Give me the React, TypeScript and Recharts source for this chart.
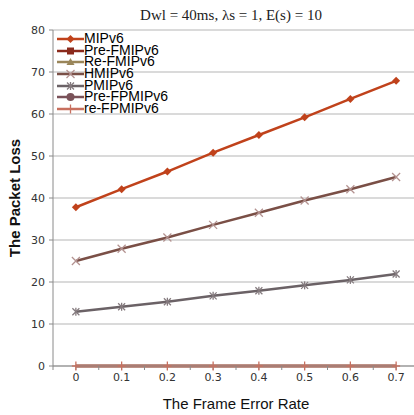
import { CartesianGrid, Label, Line, LineChart, XAxis, YAxis } from "recharts";

const frameErrorRate = [0, 0.1, 0.2, 0.3, 0.4, 0.5, 0.6, 0.7];
const mipv6 = [37.8, 42.1, 46.3, 50.8, 55.0, 59.2, 63.6, 67.9];
const preFmipv6 = [0, 0, 0, 0, 0, 0, 0, 0];
const reFmipv6 = [0, 0, 0, 0, 0, 0, 0, 0];
const hmipv6 = [25.0, 27.9, 30.6, 33.6, 36.5, 39.4, 42.1, 45.0];
const pmipv6 = [12.9, 14.1, 15.3, 16.7, 17.9, 19.2, 20.5, 21.9];
const preFpmipv6 = [0, 0, 0, 0, 0, 0, 0, 0];
const reFpmipv6 = [0, 0, 0, 0, 0, 0, 0, 0];

const xTicks = [-0.05, 0, 0.05, 0.1, 0.15, 0.2, 0.25, 0.3, 0.35, 0.4, 0.45, 0.5, 0.55, 0.6, 0.65, 0.7, 0.75];
const yTicks = [0, 10, 20, 30, 40, 50, 60, 70, 80];

const data = frameErrorRate.map((x, i) => ({
  x,
  mipv6: mipv6[i],
  preFmipv6: preFmipv6[i],
  reFmipv6: reFmipv6[i],
  hmipv6: hmipv6[i],
  pmipv6: pmipv6[i],
  preFpmipv6: preFpmipv6[i],
  reFpmipv6: reFpmipv6[i],
}));

type Shape = "diamond" | "square" | "triangle" | "x" | "star" | "circle" | "plus";

// markers of the zero series are hidden under re-FPMIPv6 in the original
const series: { key: string; name: string; line: string; mark: string; shape: Shape; dots: boolean }[] = [
  { key: "mipv6", name: "MIPv6", line: "#c0421b", mark: "#c0421b", shape: "diamond", dots: true },
  { key: "preFmipv6", name: "Pre-FMIPv6", line: "#8b2a1c", mark: "#8b2a1c", shape: "square", dots: false },
  { key: "reFmipv6", name: "Re-FMIPv6", line: "#9a865a", mark: "#9a865a", shape: "triangle", dots: false },
  { key: "hmipv6", name: "HMIPv6", line: "#7a4f46", mark: "#b39290", shape: "x", dots: true },
  { key: "pmipv6", name: "PMIPv6", line: "#6b6266", mark: "#847a7e", shape: "star", dots: true },
  { key: "preFpmipv6", name: "Pre-FPMIPv6", line: "#7a5259", mark: "#7a5259", shape: "circle", dots: false },
  { key: "reFpmipv6", name: "re-FPMIPv6", line: "#c8705f", mark: "#c8705f", shape: "plus", dots: true },
];

function marker(shape: Shape, cx: number, cy: number, color: string) {
  switch (shape) {
    case "diamond":
      return <polygon points={`${cx},${cy - 4} ${cx + 4},${cy} ${cx},${cy + 4} ${cx - 4},${cy}`} fill={color} />;
    case "square":
      return <rect x={cx - 3.5} y={cy - 3.5} width={7} height={7} fill={color} />;
    case "triangle":
      return <polygon points={`${cx},${cy - 4} ${cx + 4},${cy + 3} ${cx - 4},${cy + 3}`} fill={color} />;
    case "x":
      return (
        <g stroke={color} strokeWidth={1.3}>
          <line x1={cx - 4} y1={cy - 4} x2={cx + 4} y2={cy + 4} />
          <line x1={cx - 4} y1={cy + 4} x2={cx + 4} y2={cy - 4} />
        </g>
      );
    case "star":
      return (
        <g stroke={color} strokeWidth={1.3}>
          <line x1={cx - 3.5} y1={cy - 3.5} x2={cx + 3.5} y2={cy + 3.5} />
          <line x1={cx - 3.5} y1={cy + 3.5} x2={cx + 3.5} y2={cy - 3.5} />
          <line x1={cx} y1={cy - 4} x2={cx} y2={cy + 4} />
        </g>
      );
    case "circle":
      return <circle cx={cx} cy={cy} r={4} fill={color} />;
    case "plus":
      return (
        <g stroke={color} strokeWidth={1.3}>
          <line x1={cx - 4} y1={cy} x2={cx + 4} y2={cy} />
          <line x1={cx} y1={cy - 4.5} x2={cx} y2={cy + 4.5} />
        </g>
      );
  }
}

const makeDot = (shape: Shape, color: string) => (props: any) => {
  const { cx, cy, index } = props;
  return <g key={`${shape}-${index}`}>{marker(shape, cx, cy, color)}</g>;
};

const fmtX = (v: number) => {
  const hit = frameErrorRate.find((t) => Math.abs(t - v) < 1e-6);
  return hit === undefined ? "" : String(hit);
};

export default function App() {
  return (
    <div style={{ position: "absolute", left: 0, top: 0, width: 414, height: 415, overflow: "hidden", background: "#fff" }}>
      <div
        style={{
          position: "absolute",
          left: 0,
          top: 5,
          width: 462,
          textAlign: "center",
          fontFamily: "'Liberation Serif', serif",
          fontSize: 15,
          lineHeight: "20px",
          color: "#222",
          whiteSpace: "nowrap",
        }}
      >
        Dwl = 40ms, λs = 1, E(s) = 10
      </div>
      <LineChart width={422} height={415} data={data} margin={{ top: 30, right: 3, bottom: 0, left: 0 }}>
        <CartesianGrid horizontal vertical={false} stroke="#b5b5b5" strokeWidth={1.2} />
        <XAxis
          dataKey="x"
          type="number"
          domain={[-0.05, 0.75]}
          ticks={xTicks}
          tickFormatter={fmtX}
          interval={0}
          height={49}
          tickSize={4}
          tickMargin={3}
          stroke="#8a8a8a"
          tick={{ fontSize: 11, fill: "#333", fontFamily: "'DejaVu Sans', sans-serif" }}
          allowDataOverflow
        >
          <Label
            value="The Frame Error Rate"
            position="insideBottom"
            offset={6}
            style={{ fontSize: 15, fill: "#111", fontFamily: "'Liberation Sans', Arial, sans-serif" }}
          />
        </XAxis>
        <YAxis
          type="number"
          domain={[0, 80]}
          ticks={yTicks}
          width={53}
          tickSize={4}
          tickMargin={4}
          stroke="#8a8a8a"
          tick={{ fontSize: 11, fill: "#333", fontFamily: "'DejaVu Sans', sans-serif" }}
        >
          <Label
            value="The Packet Loss"
            angle={-90}
            position="insideLeft"
            offset={15}
            style={{ textAnchor: "middle", fontSize: 15, fontWeight: 700, fill: "#111", fontFamily: "'Liberation Sans', Arial, sans-serif" }}
          />
        </YAxis>
        {series.map((s) => (
          <Line
            key={s.key}
            dataKey={s.key}
            name={s.name}
            stroke={s.line}
            strokeWidth={2.5}
            dot={s.dots ? makeDot(s.shape, s.mark) : false}
            activeDot={false}
            isAnimationActive={false}
          />
        ))}
      </LineChart>
      <div style={{ position: "absolute", left: 57, top: 33, fontFamily: "'Liberation Sans', Arial, sans-serif" }}>
        {series.map((s) => (
          <div key={s.key} style={{ display: "flex", alignItems: "center", height: 11.7 }}>
            <svg width={27} height={12} style={{ overflow: "visible", flex: "none" }}>
              <line x1={0} y1={6} x2={27} y2={6} stroke={s.line} strokeWidth={2.5} />
              {marker(s.shape, 13.5, 6, s.mark)}
            </svg>
            <span style={{ fontSize: 14, lineHeight: "11.7px", color: "#000", whiteSpace: "nowrap" }}>{s.name}</span>
          </div>
        ))}
      </div>
    </div>
  );
}
